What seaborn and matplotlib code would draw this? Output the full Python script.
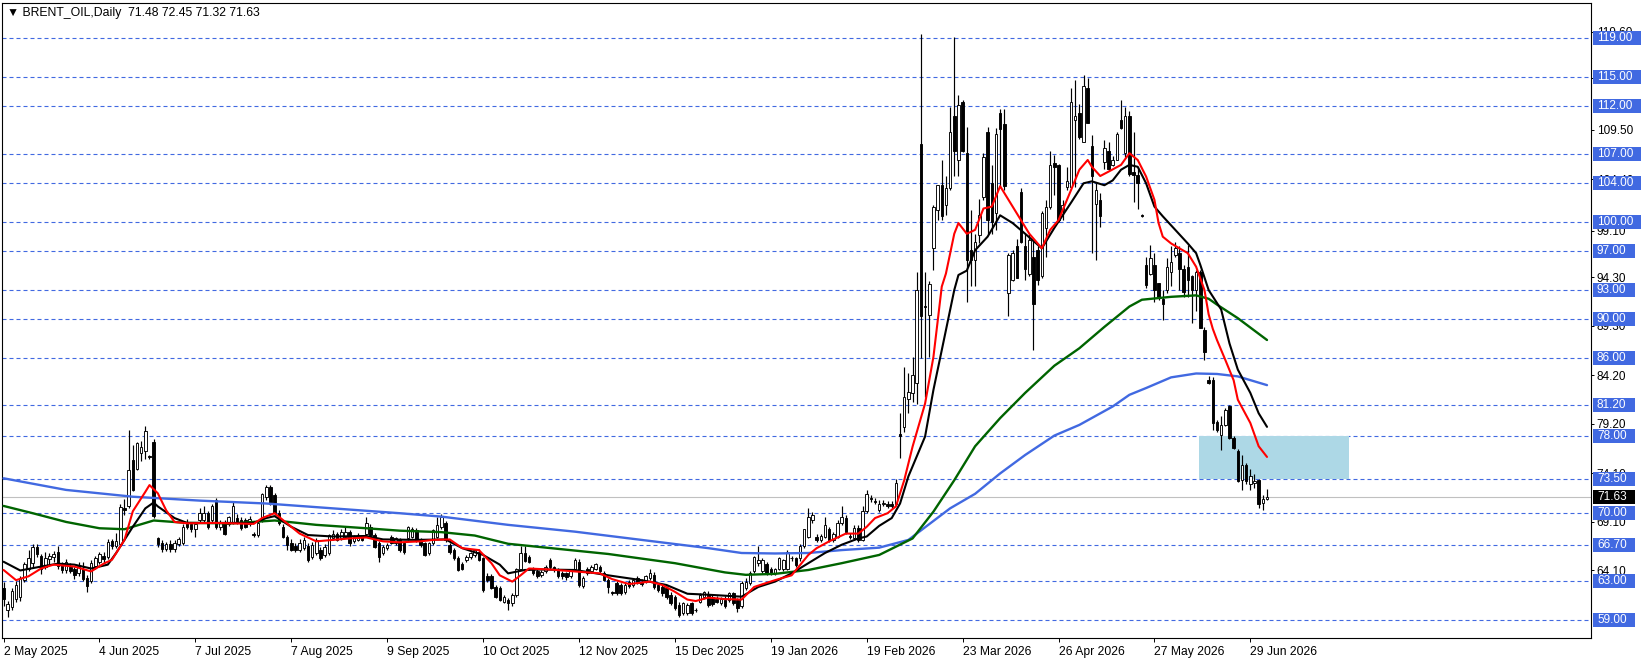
import numpy as np
import pandas as pd
import matplotlib
matplotlib.use("Agg")
import matplotlib.pyplot as plt
import matplotlib.transforms as mtransforms
from matplotlib.patches import Rectangle
import seaborn as sns

# ---------------- data ----------------
opens = [
    62.3, 60.0, 60.3, 61.2, 61.4, 63.1, 64.3, 64.9, 66.5, 65.6,
    64.5, 65.3, 65.5, 66.0, 64.7, 64.1, 64.5, 64.2, 63.8, 64.3,
    63.3, 63.0, 64.6, 65.0, 65.6, 65.5, 67.1, 66.6, 66.8, 70.5,
    70.7, 75.5, 74.6, 76.2, 76.4, 75.9, 77.3, 67.4, 66.9, 66.3,
    66.8, 66.3, 66.8, 66.9, 69.1, 68.9, 68.4, 69.3, 69.3, 70.0,
    69.3, 71.4, 68.6, 69.1, 68.9, 69.1, 69.5, 69.3, 69.3, 68.9,
    67.9, 67.8, 69.3, 71.7, 72.7, 71.9, 70.0, 68.6, 67.6, 66.9,
    66.6, 66.2, 66.4, 66.6, 65.5, 65.9, 66.2, 65.7, 65.9, 67.4,
    67.9, 67.4, 67.6, 68.1, 67.1, 67.25, 67.6, 67.9, 68.6, 67.75,
    66.9, 65.9, 66.4, 67.6, 66.9, 67.25, 66.9, 67.4, 67.6, 68.3,
    67.25, 66.9, 65.9, 66.9, 67.6, 68.6, 68.96, 66.7, 66.2, 65.35,
    64.8, 65.2, 65.5, 65.7, 66.0, 65.35, 63.5, 63.5, 62.4, 62.3,
    60.9, 61.1, 60.7, 61.6, 64.3, 65.9, 65.5, 64.2, 64.0, 63.6,
    64.0, 65.2, 64.5, 64.2, 63.8, 63.8, 63.5, 64.2, 65.0, 62.5,
    64.3, 64.0, 64.3, 64.5, 63.8, 63.1, 61.9, 62.8, 62.6, 61.9,
    62.95, 62.6, 63.3, 62.9, 62.95, 63.3, 63.6, 62.6, 62.4, 62.3,
    61.6, 61.4, 60.55, 59.7, 59.7, 60.7, 60.0, 60.9, 61.4, 61.6,
    61.4, 61.2, 60.7, 61.1, 61.1, 61.75, 61.1, 60.4, 62.3, 62.8,
    64.0, 64.85, 64.0, 64.8, 64.3, 63.8, 64.3, 64.2, 64.3, 65.4,
    65.35, 65.35, 66.6, 67.6, 69.3, 67.6, 67.2, 67.6, 68.4, 67.2,
    67.6, 69.0, 69.5, 67.7, 67.4, 68.5, 67.25, 70.2, 71.6, 71.3,
    70.3, 71.0, 71.0, 71.0, 71.0, 78.2, 78.9, 81.8, 82.4, 83.4,
    108.0, 91.4, 90.4, 97.3, 101.2, 103.8, 101.8, 103.5, 110.9, 106.4,
    112.4, 107.1, 97.1, 96.1, 98.7, 102.6, 109.3, 104.0, 100.9, 111.2,
    110.1, 92.7, 94.0, 97.5, 103.1, 97.5, 94.7, 96.4, 97.1, 94.4,
    99.4, 101.6, 106.1, 105.9, 101.2, 103.6, 103.6, 110.5, 111.2, 108.3,
    113.8, 107.8, 101.9, 102.3, 106.2, 107.3, 105.9, 106.4, 110.5, 107.1,
    110.9, 105.2, 104.9, 100.7, 95.6, 94.7, 95.6, 93.7, 92.1, 93.0,
    94.9, 96.6, 96.8, 95.2, 95.4, 94.4, 93.0, 94.9, 88.9, 83.7,
    83.7, 79.4, 78.1, 79.1, 81.0, 77.7, 76.4, 73.4, 75.0, 73.0,
    73.1, 73.4, 71.1, 71.48,
]
highs = [
    62.9, 61.0, 62.3, 63.0, 63.5, 65.0, 66.2, 66.8, 66.8, 65.8,
    66.0, 65.9, 66.1, 66.6, 65.0, 65.3, 64.9, 64.5, 65.0, 65.0,
    63.6, 65.2, 65.6, 66.0, 66.0, 67.3, 67.3, 68.0, 70.9, 71.5,
    78.6, 77.0, 77.3, 77.4, 79.0, 76.0, 77.6, 67.6, 67.2, 67.0,
    67.2, 67.2, 67.6, 68.9, 69.4, 69.0, 69.1, 70.5, 70.7, 70.2,
    71.0, 71.6, 69.3, 69.3, 69.7, 71.2, 69.9, 69.6, 69.5, 69.7,
    68.1, 69.2, 72.1, 72.9, 72.9, 72.1, 70.3, 68.9, 67.8, 67.3,
    66.9, 67.3, 67.5, 66.9, 67.0, 67.4, 66.5, 66.8, 67.9, 68.3,
    68.1, 68.4, 68.6, 68.3, 67.8, 68.0, 67.8, 69.6, 68.9, 68.0,
    67.1, 66.7, 66.9, 67.8, 67.6, 67.4, 67.0, 68.7, 68.6, 68.5,
    67.4, 67.0, 67.0, 68.4, 69.6, 69.9, 69.2, 66.9, 66.4, 65.6,
    65.0, 65.7, 66.0, 66.3, 66.3, 65.5, 63.8, 63.7, 62.6, 62.5,
    61.6, 61.3, 61.8, 64.4, 66.6, 66.6, 65.7, 64.5, 64.2, 64.1,
    64.7, 65.4, 64.6, 64.4, 64.0, 63.9, 64.3, 65.4, 65.3, 63.5,
    64.5, 64.7, 64.9, 64.7, 64.0, 63.3, 62.0, 63.0, 62.8, 62.8,
    63.1, 63.3, 63.5, 63.2, 63.6, 64.2, 63.9, 62.8, 62.6, 62.5,
    61.9, 61.6, 60.8, 60.9, 60.7, 60.9, 60.2, 61.8, 62.0, 62.0,
    61.7, 61.5, 61.4, 61.5, 61.9, 61.9, 61.3, 63.0, 63.3, 64.0,
    65.6, 66.6, 65.4, 65.0, 64.5, 64.4, 65.5, 65.3, 66.2, 65.6,
    65.5, 66.8, 68.4, 70.5, 70.1, 67.9, 67.9, 69.6, 68.6, 68.1,
    69.3, 70.7, 69.8, 68.0, 68.8, 68.8, 70.7, 72.4, 71.9, 71.6,
    71.4, 71.4, 71.3, 71.3, 73.5, 80.3, 85.1, 84.4, 86.1, 94.9,
    119.4, 94.9, 93.9, 101.8, 103.8, 106.4, 104.8, 111.9, 119.1, 113.1,
    112.6, 109.8, 101.2, 98.8, 102.4, 107.1, 109.8, 105.9, 109.7, 111.7,
    111.7, 96.8, 97.1, 98.3, 103.5, 98.8, 98.8, 98.2, 97.5, 101.1,
    102.3, 107.3, 106.9, 106.0, 102.3, 105.7, 113.8, 114.6, 112.2, 115.2,
    114.8, 109.0, 104.0, 103.0, 108.5, 108.3, 106.8, 109.3, 112.6, 111.9,
    111.5, 109.3, 105.7, 100.8, 96.4, 97.6, 96.8, 93.7, 93.0, 96.3,
    97.5, 98.0, 97.5, 95.6, 97.6, 94.6, 95.1, 95.1, 89.2, 84.1,
    84.0, 79.6, 80.0, 80.8, 81.2, 78.0, 76.6, 76.0, 75.2, 74.6,
    74.0, 73.5, 71.9, 72.45,
]
lows = [
    60.4, 59.3, 60.0, 60.8, 61.0, 62.9, 64.0, 64.5, 65.5, 63.7,
    64.2, 64.8, 65.0, 64.3, 63.8, 63.8, 63.8, 63.2, 63.5, 63.0,
    61.9, 62.8, 64.2, 64.8, 64.9, 65.3, 66.3, 66.4, 66.6, 69.8,
    70.5, 72.3, 74.5, 75.4, 75.6, 75.6, 69.5, 66.5, 66.0, 66.1,
    66.0, 66.0, 66.6, 66.7, 68.4, 68.1, 67.6, 69.1, 69.1, 68.4,
    69.1, 68.4, 68.3, 67.8, 68.7, 68.9, 68.9, 68.3, 68.5, 68.7,
    67.6, 67.5, 69.1, 71.4, 70.8, 69.8, 68.8, 67.4, 66.2, 66.1,
    66.0, 66.0, 66.2, 65.0, 65.3, 65.7, 65.2, 65.5, 65.7, 67.2,
    67.1, 67.2, 67.4, 66.6, 66.9, 67.1, 67.1, 67.7, 67.6, 66.4,
    65.0, 65.7, 66.2, 66.8, 66.7, 66.0, 65.8, 67.2, 67.4, 67.0,
    66.5, 65.6, 65.7, 66.7, 67.4, 68.4, 67.0, 65.8, 65.2, 64.0,
    64.1, 65.0, 65.3, 65.5, 65.1, 61.9, 62.9, 62.2, 61.3, 61.0,
    60.7, 60.0, 60.4, 61.4, 64.1, 65.0, 64.9, 63.6, 63.3, 63.4,
    63.8, 64.3, 63.9, 63.3, 63.2, 63.1, 63.3, 64.0, 62.4, 62.3,
    63.6, 63.8, 64.1, 63.8, 63.0, 61.75, 61.6, 61.6, 61.6, 61.7,
    62.3, 62.4, 62.7, 62.5, 62.8, 63.1, 62.2, 61.9, 61.5, 61.2,
    60.5, 60.0, 59.3, 59.5, 59.5, 59.5, 59.8, 60.7, 61.2, 60.3,
    60.4, 60.7, 60.5, 60.2, 60.9, 60.5, 59.8, 60.2, 62.1, 62.6,
    63.8, 64.6, 63.8, 63.6, 63.6, 63.6, 64.1, 64.0, 64.1, 65.1,
    64.5, 65.1, 66.4, 67.4, 69.0, 67.0, 67.0, 67.4, 67.0, 67.0,
    67.4, 68.8, 67.9, 67.3, 67.2, 67.0, 67.1, 70.0, 71.2, 70.9,
    70.1, 70.7, 70.5, 70.5, 70.8, 75.7, 78.4, 80.3, 81.5, 81.3,
    86.0, 82.0, 86.1, 95.1, 100.2, 100.2, 100.7, 103.3, 104.8, 104.8,
    107.2, 91.8, 93.4, 93.4, 97.8, 102.3, 98.8, 98.8, 99.2, 103.7,
    103.3, 90.3, 93.9, 94.2, 97.8, 94.0, 94.4, 86.8, 93.5, 94.2,
    96.4, 101.4, 102.8, 100.0, 100.2, 103.3, 103.6, 103.6, 108.6, 108.3,
    110.2, 96.8, 96.1, 99.5, 105.5, 105.4, 105.8, 106.4, 109.6, 106.7,
    104.7, 102.1, 101.4, 100.5, 93.2, 94.6, 91.8, 92.0, 89.9, 92.7,
    93.4, 96.4, 93.0, 92.3, 92.3, 89.6, 90.8, 89.1, 85.8, 83.3,
    78.6, 78.4, 76.5, 79.0, 77.6, 76.6, 73.2, 72.4, 73.0, 72.4,
    72.6, 70.5, 70.3, 71.32,
]
closes = [
    61.2, 60.6, 62.0, 62.6, 63.3, 64.8, 65.4, 66.5, 65.8, 64.3,
    65.4, 65.6, 65.8, 64.6, 64.1, 65.0, 64.0, 63.6, 64.6, 63.2,
    62.5, 64.9, 65.4, 65.8, 65.3, 67.0, 66.6, 67.1, 70.6, 70.3,
    74.5, 72.4, 77.2, 76.8, 78.5, 75.8, 69.7, 66.8, 66.3, 66.8,
    66.3, 66.9, 67.3, 68.6, 68.6, 68.4, 68.9, 70.0, 70.0, 68.6,
    70.7, 68.6, 69.1, 67.9, 69.6, 70.7, 69.0, 68.5, 68.6, 69.4,
    67.8, 69.0, 72.0, 72.7, 71.0, 70.0, 69.0, 67.6, 66.7, 66.2,
    66.2, 66.9, 67.2, 65.2, 66.7, 67.25, 65.35, 66.55, 67.75, 67.9,
    67.25, 68.1, 68.1, 66.9, 67.6, 67.75, 67.25, 69.0, 67.75, 66.55,
    65.5, 66.55, 66.7, 66.9, 67.4, 66.2, 66.0, 68.6, 68.4, 67.1,
    66.7, 65.7, 66.9, 68.3, 68.8, 69.65, 67.25, 66.0, 65.35, 64.15,
    64.3, 65.5, 65.9, 66.2, 65.2, 62.1, 63.1, 62.3, 61.4, 61.1,
    61.4, 60.7, 61.6, 64.3, 65.9, 65.1, 65.0, 63.8, 63.5, 63.9,
    64.5, 64.5, 64.2, 63.5, 63.5, 63.4, 64.2, 65.2, 62.6, 63.3,
    63.8, 64.5, 64.8, 64.0, 63.1, 62.4, 61.75, 61.75, 61.75, 62.6,
    62.45, 63.1, 62.8, 62.7, 63.5, 63.8, 62.4, 62.1, 61.75, 61.4,
    60.7, 60.2, 59.5, 60.7, 60.55, 59.7, 60.0, 61.6, 61.9, 60.55,
    60.6, 60.9, 61.2, 60.4, 61.75, 60.7, 60.2, 62.8, 62.95, 63.8,
    65.5, 65.2, 65.2, 63.8, 63.8, 64.3, 65.35, 65.2, 66.05, 65.35,
    64.7, 66.6, 68.4, 69.65, 69.8, 67.2, 67.7, 68.8, 67.2, 67.9,
    69.0, 69.65, 68.1, 67.6, 68.5, 67.2, 70.2, 72.0, 71.5, 71.2,
    71.0, 71.05, 70.7, 70.7, 73.1, 78.0, 82.0, 82.5, 84.2, 93.0,
    90.3, 91.3, 93.6, 101.6, 103.8, 100.6, 103.5, 109.3, 107.3, 112.1,
    107.3, 96.1, 96.1, 98.0, 100.7, 106.7, 100.2, 100.0, 109.1, 109.6,
    103.7, 96.6, 96.8, 94.2, 98.0, 95.2, 98.2, 91.6, 94.0, 100.9,
    101.6, 105.9, 105.7, 100.2, 101.8, 104.2, 112.4, 110.9, 108.8, 114.0,
    110.2, 104.7, 103.3, 100.6, 107.6, 105.5, 106.4, 109.1, 109.7, 110.9,
    105.0, 104.9, 104.0, 100.6, 93.5, 96.3, 93.0, 92.2, 91.6, 95.4,
    95.9, 97.3, 95.2, 92.8, 94.0, 93.0, 94.9, 89.1, 86.6, 83.4,
    79.3, 78.6, 79.1, 80.6, 77.7, 76.7, 73.3, 75.0, 73.3, 73.8,
    73.3, 71.0, 71.5, 71.63,
]

# moving averages (bar index -> value)
red_idx = [0, 3, 6, 9, 12, 17, 21, 24, 26, 29, 31, 34, 35, 37, 39, 41, 44, 51, 60, 62,
           65, 67, 71, 75, 79, 83, 87, 91, 95, 100, 103, 107, 110, 114, 117, 119, 122, 124, 126, 131,
           137, 140, 143, 146, 150, 155, 158, 161, 164, 166, 169, 173, 177, 180, 185, 189, 193, 195, 198, 202,
           205, 207, 209, 212, 214, 216, 218, 221, 223, 225, 226, 228, 229, 231, 233, 235, 237, 239, 241, 244,
           246, 249, 251, 253, 256, 258, 260, 261, 263, 265, 268, 270, 272, 274, 276, 277, 278, 280, 284, 286,
           288, 289, 290, 291, 293, 295, 296, 299, 301, 303]
red_val = [64.15, 63.1, 63.5, 64.3, 64.7, 64.5, 64.0, 64.8, 65.2, 67.25, 70.2, 72.2, 72.9, 72.05, 70.3, 69.1, 68.96, 69.0, 68.9, 69.5,
           70.0, 69.3, 67.9, 67.1, 67.25, 67.4, 67.5, 67.1, 67.0, 67.1, 67.25, 67.3, 66.4, 66.2, 64.85, 63.6, 62.95, 63.6, 64.3, 64.2,
           64.0, 63.9, 63.8, 63.2, 62.7, 62.95, 62.6, 61.9, 61.1, 60.95, 61.3, 61.15, 61.1, 62.4, 63.1, 63.6, 65.7, 66.4, 67.1, 67.9,
           67.9, 68.6, 69.5, 70.0, 70.7, 73.4, 76.86, 81.3, 86.1, 93.35, 94.7, 98.8, 99.9, 98.8, 99.2, 101.4, 101.6, 103.7, 102.3, 100.2,
           98.8, 97.3, 99.2, 100.2, 103.3, 105.4, 106.4, 105.7, 104.75, 105.2, 105.9, 107.1, 106.4, 104.7, 102.3, 99.9, 98.5, 97.8, 96.8, 95.4,
           93.0, 90.5, 89.0, 87.85, 85.8, 83.7, 81.7, 79.3, 76.9, 75.8]

black_idx = [0, 4, 9, 13, 17, 21, 25, 27, 31, 34, 36, 37, 41, 44, 60, 63, 65, 69, 73, 79,
             87, 91, 99, 106, 110, 115, 119, 121, 125, 129, 137, 145, 153, 159, 164, 169, 177, 181, 185, 189,
             193, 197, 201, 205, 207, 210, 213, 215, 217, 221, 223, 225, 228, 229, 231, 233, 236, 239, 242, 245,
             249, 252, 256, 259, 261, 264, 266, 268, 270, 272, 274, 276, 278, 281, 284, 286, 287, 289, 292, 294,
             296, 299, 301, 303]
black_val = [65.0, 64.1, 64.5, 64.8, 64.7, 64.3, 64.7, 65.9, 68.6, 70.5, 71.1, 70.7, 69.5, 69.0, 69.0, 69.5, 69.7, 68.6, 67.75, 67.6,
             67.65, 67.3, 67.25, 67.3, 66.4, 65.7, 64.7, 63.8, 64.15, 64.2, 64.15, 63.6, 63.1, 62.6, 61.7, 61.6, 61.4, 62.4, 62.95, 63.8,
             64.85, 65.9, 66.75, 67.4, 67.6, 68.7, 69.5, 71.0, 73.8, 77.9, 82.7, 86.8, 93.0, 94.55, 95.0, 97.1, 98.5, 100.7, 99.9, 98.8,
             97.3, 99.4, 102.0, 104.0, 104.2, 103.8, 104.3, 105.4, 105.9, 105.7, 104.0, 101.6, 100.6, 99.2, 97.8, 96.8, 95.6, 93.0, 91.0, 87.5,
             84.8, 82.4, 80.3, 78.9]

green_idx = [0, 7, 15, 23, 29, 36, 44, 55, 65, 75, 87, 95, 105, 113, 121, 129, 145, 161, 173, 178,
             185, 193, 201, 210, 218, 223, 228, 233, 239, 245, 252, 258, 264, 270, 273, 280, 286, 289, 291, 296, 303]
green_val = [70.75, 70.0, 69.1, 68.45, 68.35, 69.25, 69.0, 68.96, 69.25, 68.8, 68.45, 68.2, 68.05, 67.7, 66.85, 66.5, 65.8, 64.85, 63.9, 63.65,
             63.75, 64.15, 64.85, 65.7, 67.4, 70.16, 73.4, 76.9, 79.8, 82.4, 85.2, 87.0, 89.2, 91.3, 92.0, 92.3, 92.45, 92.1, 91.5, 90.1, 87.85]

blue_idx = [0, 15, 31, 47, 63, 79, 95, 105, 121, 137, 153, 169, 177, 185, 193, 201, 210, 217, 227, 233,
            239, 245, 252, 258, 266, 270, 274, 280, 286, 291, 296, 303]
blue_val = [73.6, 72.4, 71.7, 71.3, 71.0, 70.5, 70.0, 69.65, 68.8, 68.1, 67.25, 66.4, 65.9, 65.85, 65.9, 66.2, 66.45, 67.25, 70.5, 72.0,
            74.1, 76.0, 78.0, 79.1, 81.0, 82.2, 82.9, 84.0, 84.4, 84.35, 84.1, 83.2]

date_ticks = [0, 23, 46, 69, 92, 115, 138, 161, 184, 207, 230, 253, 276, 299]
date_labels = ["2 May 2025", "4 Jun 2025", "7 Jul 2025", "7 Aug 2025", "9 Sep 2025",
               "10 Oct 2025", "12 Nov 2025", "15 Dec 2025", "19 Jan 2026", "19 Feb 2026",
               "23 Mar 2026", "26 Apr 2026", "27 May 2026", "29 Jun 2026"]

price_ticks = [119.60, 114.80, 109.50, 104.40, 99.10, 94.30, 89.30, 84.20, 79.20, 74.10, 69.10, 64.10]
level_prices = [119.00, 115.00, 112.00, 107.00, 104.00, 100.00, 97.00, 93.00, 90.00,
                86.00, 81.20, 78.00, 73.50, 70.00, 66.70, 63.00, 59.00]
last_price = 71.63
zone_start, zone_end = 286.7, 322.7
zone_low, zone_high = 73.5, 78.0
title_text = "\u25BC BRENT_OIL,Daily  71.48 72.45 71.32 71.63"

# ---------------- style ----------------
sns.set_theme(style="white")
plt.rcParams['font.family'] = ['Liberation Sans', 'DejaVu Sans']
plt.rcParams['axes.edgecolor'] = 'black'
plt.rcParams['axes.linewidth'] = 0.8

W_PX, H_PX = 1641, 663
fig = plt.figure(figsize=(W_PX / 100, H_PX / 100), dpi=100)
ax_left, ax_right, ax_top, ax_bottom = 2.3, 1591.0, 3.0, 638.0
ax = fig.add_axes([ax_left / W_PX, (H_PX - ax_bottom) / H_PX,
                   (ax_right - ax_left) / W_PX, (ax_bottom - ax_top) / H_PX])
ax.set_facecolor('white')
ax.set_xlim(-0.3, 380.7)
ax.set_ylim(57.14, 122.58)

LEVEL_BLUE = '#4169E1'

# level lines & current price line
for p in level_prices:
    ax.axhline(p, color=LEVEL_BLUE, lw=0.8, ls=(0, (3.6, 2.7)), zorder=1)
ax.axhline(last_price, color='#C0C0C0', lw=0.8, zorder=1)

# supply/demand zone
ax.add_patch(Rectangle((zone_start, zone_low), zone_end - zone_start, zone_high - zone_low,
                       facecolor='#ADD8E6', edgecolor='none', zorder=1.5))

# candles
df = pd.DataFrame({'o': opens, 'h': highs, 'l': lows, 'c': closes})
df['i'] = np.arange(len(df))
up = df['c'] >= df['o']
bottom = np.minimum(df['o'], df['c'])
height = np.maximum((df['c'] - df['o']).abs(), 0.07)
ax.vlines(df['i'], df['l'], df['h'], color='black', lw=0.85, zorder=3)
ax.bar(df['i'][up], height[up], bottom=bottom[up], width=0.6, color='white',
       edgecolor='black', linewidth=0.65, zorder=4)
ax.bar(df['i'][~up], height[~up], bottom=bottom[~up], width=0.6, color='black',
       edgecolor='black', linewidth=0.65, zorder=4)

# moving averages
for xs, ys, col, lw in [(blue_idx, blue_val, LEVEL_BLUE, 1.7),
                        (green_idx, green_val, '#006400', 1.7),
                        (black_idx, black_val, 'black', 1.5),
                        (red_idx, red_val, '#FF0000', 1.5)]:
    sns.lineplot(x=xs, y=ys, color=col, linewidth=lw, ax=ax, zorder=6,
                 estimator=None, sort=False, legend=False)

# axes / ticks
ax.yaxis.tick_right()
ax.set_yticks(price_ticks)
ax.set_yticklabels([f"{v:.2f}" for v in price_ticks])
ax.tick_params(axis='y', which='both', right=True, left=False, length=2.5, width=0.7,
               pad=1.5, labelsize=8.5, colors='black', direction='out')
ax.set_xticks(date_ticks)
ax.set_xticklabels(date_labels)
ax.tick_params(axis='x', which='both', bottom=True, length=3, width=0.7, pad=2.5,
               labelsize=8.7, colors='black', direction='out')
for lbl in ax.get_xticklabels():
    lbl.set_horizontalalignment('left')
ax.set_xlabel('')
ax.set_ylabel('')
for s in ax.spines.values():
    s.set_visible(True)
    s.set_color('black')
    s.set_linewidth(0.8)
ax.grid(False)

# right-side price boxes
trans = mtransforms.blended_transform_factory(ax.transAxes, ax.transData)
span_px = ax_right - ax_left
px_per_price = (ax_bottom - ax_top) / (122.58 - 57.14)
box_h = 14 / px_per_price
x_box = (1593 - ax_left) / span_px
x_txt = (1597 - ax_left) / span_px
for p in level_prices:
    w = (48 if p >= 100 else 42) / span_px
    ax.add_patch(Rectangle((x_box, p - box_h / 2), w, box_h, transform=trans,
                           facecolor=LEVEL_BLUE, edgecolor='none', clip_on=False, zorder=10))
    ax.text(x_txt, p, f"{p:.2f}", transform=trans, color='white', fontsize=8.5,
            ha='left', va='center', clip_on=False, zorder=11)
ax.add_patch(Rectangle((x_box, last_price - box_h / 2), 42 / span_px, box_h, transform=trans,
                       facecolor='black', edgecolor='none', clip_on=False, zorder=10))
ax.text(x_txt, last_price, f"{last_price:.2f}", transform=trans, color='white', fontsize=8.5,
        ha='left', va='center', clip_on=False, zorder=11)

# title
fig.text(7 / W_PX, 1 - 13 / H_PX, title_text, fontsize=8.8, color='black', ha='left', va='center')

fig.savefig('out.png', dpi=100)
